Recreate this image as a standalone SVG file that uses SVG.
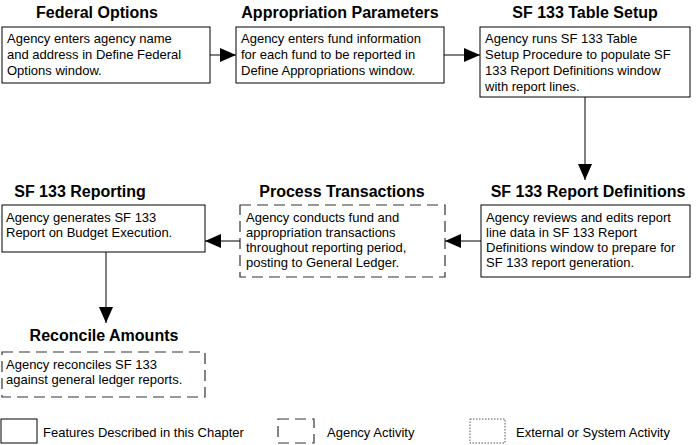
<svg xmlns="http://www.w3.org/2000/svg" width="698" height="445" viewBox="0 0 698 445">
<style>
.t{font-family:"Liberation Sans",Arial,sans-serif;font-weight:bold;font-size:16px;text-anchor:middle;fill:#000}
.b{font-family:"Liberation Sans",Arial,sans-serif;font-size:13px;fill:#000}
.s{fill:#fff;stroke:#000;stroke-width:1}
.d{fill:#fff;stroke:#333;stroke-width:1.2;stroke-dasharray:11,6}
.o{fill:#fff;stroke:#555;stroke-width:1;stroke-dasharray:1.5,1.5}
.c{stroke:#000;stroke-width:1;fill:none}
</style>
<defs><marker id="a" markerWidth="16" markerHeight="14" refX="16" refY="7" orient="auto" markerUnits="userSpaceOnUse"><path d="M0,0 L16,7 L0,14 Z" fill="#000"/></marker></defs>
<rect width="698" height="445" fill="#fff"/>
<g id="federal-options"><text class="t" x="97" y="18">Federal Options</text><rect class="s" x="2" y="27" width="208" height="56"/>
<text class="b" x="7" y="43">Agency enters agency name</text><text class="b" x="7" y="59">and address in Define Federal</text><text class="b" x="7" y="75">Options window.</text></g>
<g id="appropriation-parameters"><text class="t" x="340" y="18">Appropriation Parameters</text><rect class="s" x="236" y="27" width="208" height="56"/>
<text class="b" x="241" y="43">Agency enters fund information</text><text class="b" x="241" y="59">for each fund to be reported in</text><text class="b" x="241" y="75">Define Appropriations window.</text></g>
<g id="table-setup"><text class="t" x="585" y="18">SF 133 Table Setup</text><rect class="s" x="480" y="27" width="210" height="70"/>
<text class="b" x="485" y="43">Agency runs SF 133 Table</text><text class="b" x="485" y="59">Setup Procedure to populate SF</text><text class="b" x="485" y="75">133 Report Definitions window</text><text class="b" x="485" y="91">with report lines.</text></g>
<g id="report-definitions"><text class="t" x="588" y="197">SF 133 Report Definitions</text><rect class="s" x="481" y="205" width="209" height="72"/>
<text class="b" x="486" y="222">Agency reviews and edits report</text><text class="b" x="486" y="237">line data in SF 133 Report</text><text class="b" x="486" y="252">Definitions window to prepare for</text><text class="b" x="486" y="267">SF 133 report generation.</text></g>
<g id="process-transactions"><text class="t" x="342" y="197">Process Transactions</text><rect class="d" x="240" y="205" width="205" height="72"/>
<text class="b" x="246" y="222">Agency conducts fund and</text><text class="b" x="246" y="237">appropriation transactions</text><text class="b" x="246" y="252">throughout reporting period,</text><text class="b" x="246" y="267">posting to General Ledger.</text></g>
<g id="sf133-reporting"><text class="t" x="80" y="197">SF 133 Reporting</text><rect class="s" x="2" y="205" width="203" height="47"/>
<text class="b" x="6" y="222">Agency generates SF 133</text><text class="b" x="6" y="237">Report on Budget Execution.</text></g>
<g id="reconcile-amounts"><text class="t" x="104" y="341">Reconcile Amounts</text><rect class="d" x="2" y="352" width="203" height="45"/>
<text class="b" x="6" y="369">Agency reconciles SF 133</text><text class="b" x="6" y="384">against general ledger reports.</text></g>
<g id="connectors">
<line class="c" x1="210" y1="55" x2="236" y2="55" marker-end="url(#a)"/>
<line class="c" x1="444" y1="55" x2="480" y2="55" marker-end="url(#a)"/>
<line class="c" x1="585" y1="97" x2="585" y2="180" marker-end="url(#a)"/>
<line class="c" x1="481" y1="241" x2="445" y2="241" marker-end="url(#a)"/>
<line class="c" x1="240" y1="241" x2="205" y2="241" marker-end="url(#a)"/>
<line class="c" x1="106" y1="252" x2="106" y2="323" marker-end="url(#a)"/>
</g>
<g id="legend">
<rect class="s" x="1" y="419" width="36" height="24"/><text class="b" x="43" y="437">Features Described in this Chapter</text>
<rect class="d" x="278" y="419" width="36" height="24"/><text class="b" x="327" y="437">Agency Activity</text>
<rect class="o" x="470" y="419" width="35" height="24"/><text class="b" x="516" y="437">External or System Activity</text>
</g>
</svg>
